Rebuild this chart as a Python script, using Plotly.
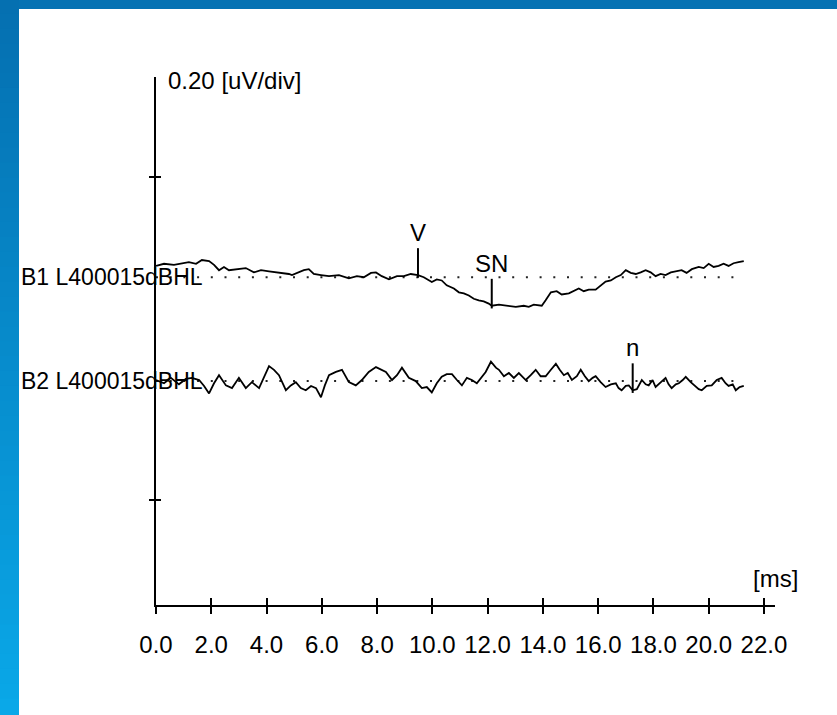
import numpy as np
import plotly.graph_objects as go

# ---------------- data (ms, uV relative to each trace baseline) ----------------
b1_time = [0.00, 0.29, 0.65, 0.94, 1.19, 1.45, 1.66, 1.92, 2.10, 2.28, 2.46, 2.64, 3.00, 3.25, 3.54, 3.80,
           4.09, 4.45, 4.81, 4.92, 5.17, 5.35, 5.53, 5.71, 5.97, 6.26, 6.62, 6.98, 7.27, 7.52, 7.78, 7.96,
           8.17, 8.43, 8.72, 8.97, 9.22, 9.40, 9.48, 9.69, 9.98, 10.16, 10.34, 10.52, 10.78, 10.96, 11.14,
           11.32, 11.50, 11.68, 11.86, 12.04, 12.15, 12.41, 12.69, 13.02, 13.31, 13.49, 13.67, 13.96, 14.10,
           14.29, 14.50, 14.68, 14.94, 15.12, 15.30, 15.48, 15.66, 15.91, 16.09, 16.27, 16.46, 16.64, 16.82,
           17.00, 17.18, 17.36, 17.54, 17.72, 17.90, 18.08, 18.26, 18.44, 18.63, 18.81, 19.02, 19.20, 19.39,
           19.64, 19.82, 20.00, 20.18, 20.36, 20.54, 20.72, 20.90, 21.08, 21.27]
b1_amp = [0.021, 0.025, 0.023, 0.026, 0.028, 0.025, 0.032, 0.030, 0.023, 0.013, 0.019, 0.013, 0.015, 0.017,
          0.009, 0.013, 0.011, 0.009, 0.006, 0.004, 0.009, 0.013, 0.015, 0.006, 0.004, 0.002, 0.004, -0.002,
          0.002, 0.000, 0.008, 0.009, 0.002, -0.004, 0.002, 0.002, 0.006, 0.004, 0.004, 0.000, -0.009, -0.004,
          -0.006, -0.015, -0.021, -0.028, -0.030, -0.034, -0.040, -0.043, -0.045, -0.049, -0.053, -0.051,
          -0.053, -0.055, -0.053, -0.055, -0.051, -0.053, -0.043, -0.028, -0.026, -0.032, -0.030, -0.025,
          -0.021, -0.026, -0.023, -0.023, -0.015, -0.008, -0.006, 0.000, 0.004, 0.013, 0.008, 0.006, 0.009,
          0.013, 0.009, 0.002, 0.006, 0.004, 0.009, 0.011, 0.013, 0.008, 0.015, 0.019, 0.017, 0.025, 0.019,
          0.021, 0.025, 0.021, 0.026, 0.028, 0.030]

b2_time = [0.00, 0.29, 0.54, 0.83, 1.08, 1.30, 1.56, 1.74, 1.92, 2.10, 2.28, 2.53, 2.75, 3.00, 3.25, 3.47,
           3.73, 3.91, 4.09, 4.27, 4.45, 4.70, 4.88, 5.06, 5.24, 5.42, 5.61, 5.79, 5.97, 6.11, 6.26, 6.51,
           6.73, 6.98, 7.23, 7.45, 7.70, 7.96, 8.14, 8.32, 8.54, 8.72, 8.90, 9.15, 9.40, 9.62, 9.80, 9.98,
           10.16, 10.34, 10.52, 10.71, 10.89, 11.07, 11.25, 11.43, 11.61, 11.79, 11.93, 12.12, 12.30, 12.41,
           12.59, 12.77, 12.95, 13.13, 13.38, 13.56, 13.74, 13.92, 14.10, 14.29, 14.47, 14.61, 14.76, 14.90,
           15.05, 15.23, 15.37, 15.52, 15.66, 15.80, 15.91, 16.09, 16.27, 16.46, 16.64, 16.74, 16.85, 17.00,
           17.11, 17.25, 17.40, 17.58, 17.72, 17.83, 17.97, 18.08, 18.26, 18.44, 18.55, 18.66, 18.81, 18.92,
           19.06, 19.17, 19.35, 19.53, 19.64, 19.75, 19.93, 20.11, 20.29, 20.47, 20.61, 20.72, 20.87, 20.98,
           21.12, 21.27]
b2_amp = [0.002, -0.004, 0.006, -0.006, 0.004, 0.006, 0.002, -0.009, -0.023, -0.004, 0.011, -0.008, -0.013,
          0.006, -0.013, -0.002, -0.013, 0.006, 0.028, 0.021, 0.011, -0.017, -0.008, -0.002, -0.013, -0.017,
          -0.009, -0.013, -0.030, -0.008, 0.011, 0.017, 0.021, -0.002, -0.008, 0.002, 0.017, 0.026, 0.021,
          0.017, 0.002, 0.011, 0.025, 0.006, 0.000, -0.013, -0.011, -0.021, -0.004, 0.008, 0.013, 0.013,
          0.002, -0.008, 0.006, 0.002, -0.004, 0.008, 0.017, 0.036, 0.025, 0.021, 0.009, 0.015, 0.006, 0.015,
          0.002, 0.011, 0.021, 0.009, 0.009, 0.021, 0.032, 0.021, 0.011, 0.015, 0.002, 0.009, 0.021, 0.009,
          0.000, 0.006, 0.009, -0.002, -0.011, -0.006, -0.004, -0.013, -0.017, -0.009, -0.008, -0.017, -0.015,
          0.002, -0.006, -0.008, 0.002, -0.011, -0.002, 0.006, -0.006, -0.013, -0.006, -0.004, 0.002, 0.008,
          -0.002, -0.011, -0.015, -0.017, -0.009, -0.008, 0.002, 0.006, -0.004, -0.009, -0.006, -0.017,
          -0.011, -0.009]

series_names = ["B1 L400015dBHL", "B2 L400015dBHL"]
series_baselines = [0.614, 0.421]   # uV position of each trace's zero line on the display axis

marker_labels = ["V", "SN", "n"]
marker_times = [9.48, 12.15, 17.25]
marker_series = [0, 0, 1]

x_ticks = [0.0, 2.0, 4.0, 6.0, 8.0, 10.0, 12.0, 14.0, 16.0, 18.0, 20.0, 22.0]
y_ticks = [0.2, 0.8]
x_range = [0.0, 22.4]
y_range = [0.005, 0.986]

y_unit_label = "0.20 [uV/div]"
x_unit_label = "[ms]"

# ---------------- style ----------------
W, H = 837, 715
ML, MR, MT, MB = 156, 62, 77, 110
PW, PH = W - ML - MR, H - MT - MB
FONT = "Liberation Sans, Arial, sans-serif"
FS = 24
FS_SER = 23
INK = "#000000"


def px(x):
    return (x - ML) / PW


def py(y):
    return (H - MB - y) / PH


fig = go.Figure()

times = [np.array(b1_time), np.array(b2_time)]
amps = [np.array(b1_amp), np.array(b2_amp)]

# dotted zero lines
for i, base in enumerate(series_baselines):
    fig.add_trace(go.Scatter(x=[0.0, times[i][-1]], y=[base, base], mode="lines",
                             line=dict(color="#222222", width=2, dash="2px,11.7px"),
                             hoverinfo="skip", showlegend=False))

# traces
for i, base in enumerate(series_baselines):
    fig.add_trace(go.Scatter(x=times[i], y=amps[i] + base, mode="lines",
                             line=dict(color=INK, width=1.8), name=series_names[i],
                             hoverinfo="skip", showlegend=False))

annotations = []
# peak markers
for lab, t, s in zip(marker_labels, marker_times, marker_series):
    a = float(np.interp(t, times[s], amps[s])) + series_baselines[s]
    lo, hi = a - 0.005, a + 0.05
    fig.add_trace(go.Scatter(x=[t, t], y=[lo, hi], mode="lines",
                             line=dict(color=INK, width=2), hoverinfo="skip", showlegend=False))
    annotations.append(dict(x=t, y=hi, xref="x", yref="y", text=lab, showarrow=False,
                            xanchor="center", yanchor="bottom", yshift=0,
                            font=dict(family=FONT, size=FS, color=INK)))

# series labels
for name, base in zip(series_names, series_baselines):
    annotations.append(dict(x=px(19), y=base, xref="paper", yref="y", text=name, showarrow=False,
                            xanchor="left", yanchor="middle",
                            font=dict(family=FONT, size=FS_SER, color=INK)))

annotations.append(dict(x=px(166), y=py(80), xref="paper", yref="paper", text=y_unit_label,
                        showarrow=False, xanchor="left", yanchor="middle",
                        font=dict(family=FONT, size=FS, color=INK)))
annotations.append(dict(x=px(775), y=py(578), xref="paper", yref="paper", text=x_unit_label,
                        showarrow=False, xanchor="center", yanchor="middle",
                        font=dict(family=FONT, size=FS, color=INK)))

# invisible trace for the overlay axes (inner half of crossing ticks)
fig.add_trace(go.Scatter(x=[1.0], y=[0.5], xaxis="x2", yaxis="y2", mode="markers",
                         marker=dict(opacity=0), hoverinfo="skip", showlegend=False))

# blue frame (top bar + left gradient bar)
shapes = [dict(type="rect", xref="paper", yref="paper", x0=px(0), x1=px(W), y0=py(0), y1=py(9),
               fillcolor="#0572B3", line=dict(width=0), layer="above")]
N = 48
c0 = np.array([5, 112, 177])
c1 = np.array([10, 168, 232])
for k in range(N):
    f = k / (N - 1)
    c = (c0 + (c1 - c0) * f).astype(int)
    shapes.append(dict(type="rect", xref="paper", yref="paper", x0=px(0), x1=px(19),
                       y0=py(max(H * k / N - 1.5, 0)), y1=py(H * (k + 1) / N + 1.5),
                       fillcolor=f"rgb({c[0]},{c[1]},{c[2]})", line=dict(width=0), layer="above"))

axis_common = dict(showgrid=False, zeroline=False)
fig.update_layout(
    width=W, height=H,
    margin=dict(l=ML, r=MR, t=MT, b=MB, pad=0),
    paper_bgcolor="white", plot_bgcolor="white",
    xaxis=dict(range=x_range, tickvals=x_ticks, ticktext=[f"{v:.1f}" for v in x_ticks],
               ticks="outside", ticklen=7, tickwidth=2, tickcolor=INK, tickangle=0,
               showline=True, linecolor=INK, linewidth=2, ticklabelstandoff=10,
               tickfont=dict(family=FONT, size=FS, color=INK), **axis_common),
    yaxis=dict(range=y_range, tickvals=y_ticks, ticks="outside", ticklen=5, tickwidth=2,
               tickcolor=INK, showticklabels=False, showline=True, linecolor=INK, linewidth=2,
               **axis_common),
    xaxis2=dict(range=x_range, overlaying="x", anchor="y2", side="bottom", tickvals=x_ticks,
                ticks="inside", ticklen=7, tickwidth=2, tickcolor=INK, showticklabels=False,
                showline=False, **axis_common),
    yaxis2=dict(range=y_range, overlaying="y", anchor="x2", side="left", tickvals=y_ticks,
                ticks="inside", ticklen=5, tickwidth=2, tickcolor=INK, showticklabels=False,
                showline=False, **axis_common),
    annotations=annotations,
    shapes=shapes,
    showlegend=False,
)

fig.write_html("out.html")
